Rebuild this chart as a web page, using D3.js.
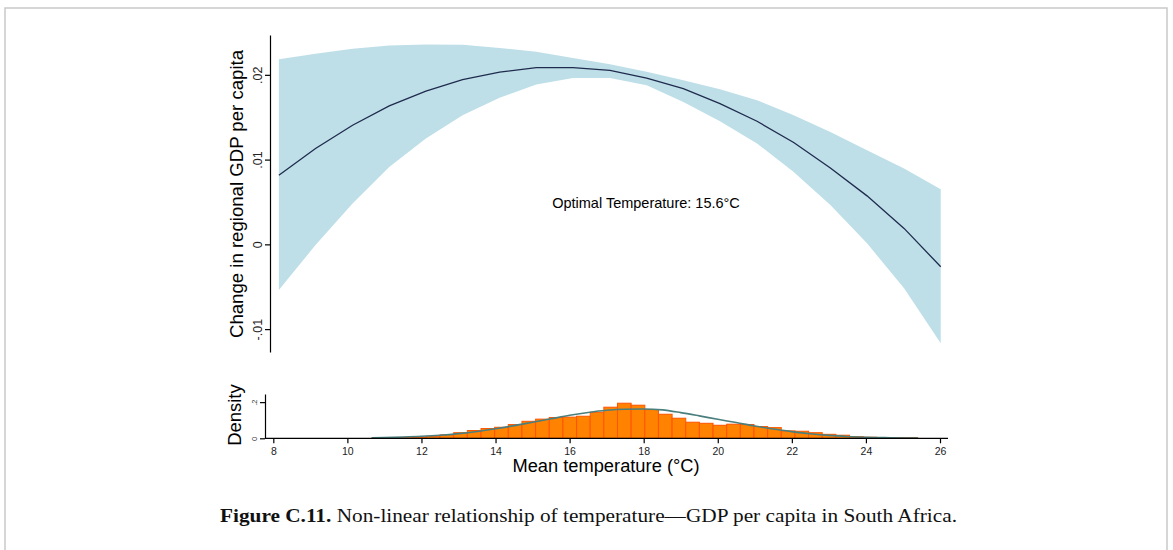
<!DOCTYPE html>
<html>
<head>
<meta charset="utf-8">
<script src="https://cdn.jsdelivr.net/npm/d3@7/dist/d3.min.js"></script>
<style>
  body { margin: 0; background: #fff; }
  svg text { font-family: "Liberation Sans", Arial, Helvetica, sans-serif; }
</style>
</head>
<body>
<svg id="chart" width="1173" height="550"></svg>
<script>
// temperature grid of the fitted curve (deg C)
const fitTemps = [8.15, 9.14, 10.14, 11.13, 12.12, 13.11, 14.11, 15.10, 16.09, 17.09,
                  18.08, 19.07, 20.06, 21.06, 22.05, 23.04, 24.03, 25.03, 26.02];
const fitEstimate = [0.00816, 0.01131, 0.01405, 0.01633, 0.01809, 0.01943, 0.02033, 0.02085, 0.02085, 0.02053,
                     0.01962, 0.01837, 0.01661, 0.01452, 0.01201, 0.00902, 0.00572, 0.00188, -0.00264];
const fitUpper = [0.02183, 0.02250, 0.02309, 0.02347, 0.02359, 0.02356, 0.02318, 0.02271, 0.02200, 0.02124,
                  0.02035, 0.01935, 0.01829, 0.01700, 0.01523, 0.01326, 0.01111, 0.00895, 0.00651];
const fitLower = [-0.00538, -0.00008, 0.00483, 0.00914, 0.01249, 0.01523, 0.01729, 0.01885, 0.01962, 0.01962,
                  0.01876, 0.01680, 0.01452, 0.01190, 0.00855, 0.00463, 0.00012, -0.00518, -0.01166];

// histogram of mean temperature
const binStart = 10.66;
const binWidth = 0.3685;
const binDensity = [0.002, 0.002, 0.003, 0.007, 0.011, 0.019, 0.031, 0.043, 0.054, 0.061,
                    0.076, 0.094, 0.106, 0.115, 0.117, 0.122, 0.144, 0.172, 0.194, 0.183,
                    0.159, 0.133, 0.111, 0.089, 0.083, 0.072, 0.078, 0.076, 0.065, 0.059,
                    0.041, 0.039, 0.031, 0.022, 0.017, 0.009, 0.006, 0.003, 0.003, 0.003];

// normal density overlay
const normTemps = [10.66, 11, 11.5, 12, 12.5, 13, 13.5, 14, 14.5, 15, 15.5, 16, 16.5, 17, 17.5, 18,
                   18.5, 19, 19.5, 20, 20.5, 21, 21.5, 22, 22.5, 23, 23.5, 24, 24.5, 25, 25.4];
const normDensity = [0.003, 0.004, 0.007, 0.011, 0.017, 0.026, 0.038, 0.053, 0.070, 0.089, 0.108, 0.127, 0.143, 0.155, 0.161, 0.162,
                     0.157, 0.142, 0.124, 0.105, 0.087, 0.068, 0.051, 0.037, 0.025, 0.016, 0.010, 0.006, 0.004, 0.002, 0.001];

const xTicks = [8, 10, 12, 14, 16, 18, 20, 22, 24, 26];
const yTicks = [-0.01, 0, 0.01, 0.02];
const yTickLabels = ["-.01", "0", ".01", ".02"];
const densTicks = [0, 0.2];
const densTickLabels = ["0", ".2"];

const svg = d3.select("#chart");

// outer frame
svg.append("rect")
  .attr("x", 5).attr("y", 8)
  .attr("width", 1162).attr("height", 560)
  .attr("fill", "none")
  .attr("stroke", "#c9c9c9")
  .attr("stroke-width", 1.5);

const x = d3.scaleLinear().domain([8, 26]).range([273.3, 940]);
const y = d3.scaleLinear().domain([-0.0127, 0.0247]).range([352, 35]);
const yd = d3.scaleLinear().domain([0, 0.245]).range([438.3, 394]);

const fit = fitTemps.map((t, i) => ({ t, est: fitEstimate[i], hi: fitUpper[i], lo: fitLower[i] }));

// confidence band
svg.append("path")
  .datum(fit)
  .attr("fill", "#bedfe8")
  .attr("d", d3.area().x(d => x(d.t)).y0(d => y(d.lo)).y1(d => y(d.hi)));

// point estimate
svg.append("path")
  .datum(fit)
  .attr("fill", "none")
  .attr("stroke", "#1f2b4d")
  .attr("stroke-width", 1.3)
  .attr("d", d3.line().x(d => x(d.t)).y(d => y(d.est)));

// upper y axis
const yAxis = svg.append("g")
  .attr("transform", "translate(270,0)")
  .call(d3.axisLeft(y).tickValues(yTicks).tickSize(5).tickSizeOuter(0)
    .tickFormat((d, i) => yTickLabels[i]));
yAxis.select(".domain").attr("stroke", "#000").attr("stroke-width", 1.2);
yAxis.selectAll(".tick line").attr("stroke", "#000").attr("stroke-width", 1.2);
yAxis.selectAll(".tick text")
  .attr("transform", "rotate(-90)")
  .attr("x", 0).attr("y", -8)
  .attr("dy", 0)
  .attr("text-anchor", "middle")
  .attr("font-size", 12.5)
  .attr("fill", "#222");

svg.append("text")
  .attr("transform", "translate(242.5,194) rotate(-90)")
  .attr("text-anchor", "middle")
  .attr("font-size", 18.6)
  .attr("fill", "#000")
  .text("Change in regional GDP per capita");

svg.append("text")
  .attr("x", 646).attr("y", 207.5)
  .attr("text-anchor", "middle")
  .attr("font-size", 14.5)
  .attr("fill", "#000")
  .text("Optimal Temperature: 15.6°C");

// histogram
svg.append("g")
  .selectAll("rect")
  .data(binDensity)
  .join("rect")
  .attr("x", (d, i) => x(binStart + i * binWidth))
  .attr("width", x(binStart + binWidth) - x(binStart))
  .attr("y", d => yd(d))
  .attr("height", d => yd(0) - yd(d))
  .attr("fill", "#ff8200")
  .attr("stroke", "#ff5400")
  .attr("stroke-width", 1);

svg.append("path")
  .datum(normTemps.map((t, i) => [t, normDensity[i]]))
  .attr("fill", "none")
  .attr("stroke", "#4a7f7d")
  .attr("stroke-width", 1.6)
  .attr("d", d3.line().curve(d3.curveMonotoneX).x(d => x(d[0])).y(d => yd(d[1])));

// lower axes
const xAxis = svg.append("g")
  .attr("transform", "translate(0,438.3)")
  .call(d3.axisBottom(x).tickValues(xTicks).tickSize(5).tickSizeOuter(0));
xAxis.select(".domain").attr("d", "M265,0H948").attr("stroke", "#000").attr("stroke-width", 1.2);
xAxis.selectAll(".tick line").attr("stroke", "#000").attr("stroke-width", 1.2);
xAxis.selectAll(".tick text").attr("y", 9).attr("font-size", 10.5).attr("fill", "#222");

const dAxis = svg.append("g")
  .attr("transform", "translate(265,0)")
  .call(d3.axisLeft(yd).tickValues(densTicks).tickSize(5).tickSizeOuter(0)
    .tickFormat((d, i) => densTickLabels[i]));
dAxis.select(".domain").attr("stroke", "#000").attr("stroke-width", 1.2);
dAxis.selectAll(".tick line").attr("stroke", "#000").attr("stroke-width", 1.2);
dAxis.selectAll(".tick text")
  .attr("transform", "rotate(-90)")
  .attr("x", 0).attr("y", -8)
  .attr("dy", 0)
  .attr("text-anchor", "middle")
  .attr("font-size", 7.5)
  .attr("fill", "#333");

svg.append("text")
  .attr("transform", "translate(241,415) rotate(-90)")
  .attr("text-anchor", "middle")
  .attr("font-size", 18.4)
  .attr("fill", "#000")
  .text("Density");

svg.append("text")
  .attr("x", 606).attr("y", 472)
  .attr("text-anchor", "middle")
  .attr("font-size", 18.3)
  .attr("fill", "#000")
  .text("Mean temperature (°C)");

// caption, stretched to the width it takes in the figure
const cap = svg.append("text")
  .attr("x", 220).attr("y", 522)
  .attr("font-size", 19.5)
  .attr("fill", "#111")
  .attr("textLength", 737)
  .attr("lengthAdjust", "spacingAndGlyphs")
  .style("font-family", "'Liberation Serif', 'DejaVu Serif', serif");
cap.append("tspan").attr("font-weight", "bold").text("Figure C.11.");
cap.append("tspan").text(" Non-linear relationship of temperature—GDP per capita in South Africa.");
</script>
</body>
</html>
